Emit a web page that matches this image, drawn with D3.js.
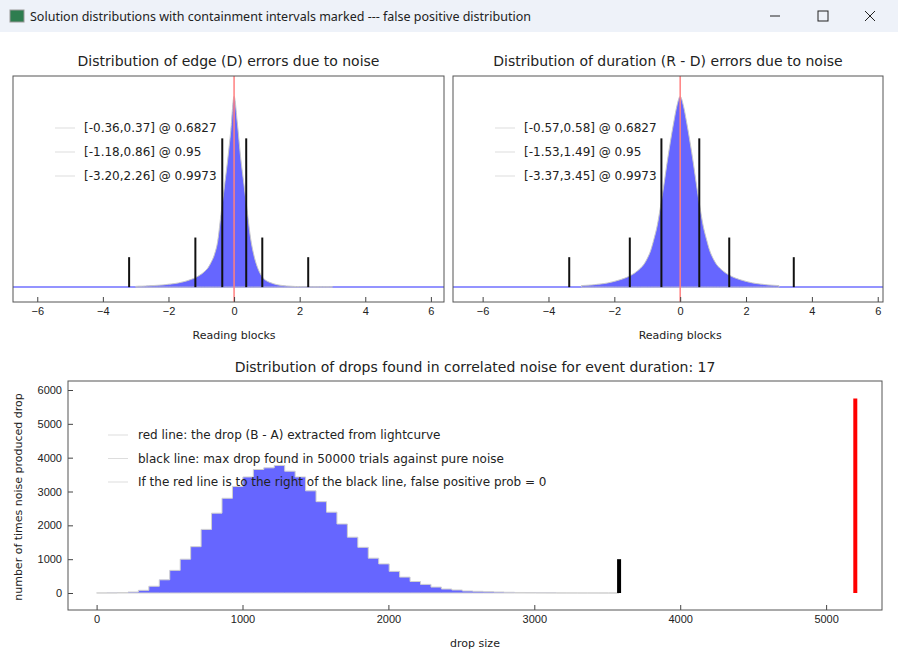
<!DOCTYPE html>
<html>
<head>
<meta charset="utf-8">
<script src="https://cdn.jsdelivr.net/npm/d3@7"></script>
<style>
  body { margin: 0; background: #fff; font-family: "DejaVu Sans", sans-serif; }
  svg text { fill: #222; }
</style>
</head>
<body>
<svg id="chart" width="898" height="661"></svg>
<script>
// ---- data ----
const distX = d3.range(-30, 31).map(i => i / 10);  // bin centres, reading blocks
const edgeCounts = [.004,.005,.005,.006,.007,.008,.009,.010,.011,.013,.015,.017,.019,.022,.026,.030,.035,.041,.048,.057,.068,.082,.10,.13,.17,.24,.38,.52,.66,.82,1.0,.86,.68,.54,.40,.26,.17,.11,.07,.045,.032,.024,.018,.013,.010,.008,.006,.005,.004,.003,.003,.002,.002,.002,.002,.002,.002,.002,.002,.002,.002];
const durCounts = [.008,.009,.010,.011,.013,.015,.017,.019,.022,.026,.030,.035,.040,.046,.053,.062,.072,.085,.10,.12,.15,.19,.25,.32,.42,.53,.65,.76,.86,.95,1.0,.95,.86,.76,.65,.53,.42,.32,.25,.19,.15,.12,.10,.085,.072,.062,.053,.046,.040,.035,.030,.026,.022,.019,.017,.015,.013,.011,.010,.009,.008];
const edgeIntervals = [[-0.36, 0.37], [-1.18, 0.86], [-3.20, 2.26]];
const durIntervals = [[-0.57, 0.58], [-1.53, 1.49], [-3.37, 3.45]];
const probs = ['0.6827', '0.95', '0.9973'];
const markHeights = [0.78, 0.26, 0.157];

const dropCounts = [3,5,15,30,80,200,390,670,1000,1370,1880,2360,2800,3150,3430,3650,3700,3770,3600,3430,3020,2700,2390,2040,1650,1350,1030,860,640,470,340,255,175,118,90,60,50,40,30,22,16,12,8,6,4,3,2,2,1,1];
const maxNoiseDrop = 3581;
const observedDrop = 5200;
const redLineTop = 5750;
const blackLineTop = 1000;
const dropLegend = [
  'red line: the drop (B - A) extracted from lightcurve',
  'black line: max drop found in 50000 trials against pure noise',
  'If the red line is to the right of the black line, false positive prob = 0'
];

const svg = d3.select('#chart');

// ---- window title bar ----
svg.append('rect').attr('width', 898).attr('height', 32).attr('fill', '#eef2f9');
svg.append('rect').attr('x', 10).attr('y', 10).attr('width', 14).attr('height', 12)
  .attr('fill', '#2e7d4f').attr('stroke', '#999');
svg.append('text').attr('x', 30).attr('y', 21).style('font-size', '12.5px')
  .style('font-family', '"Noto Sans", sans-serif')
  .text('Solution distributions with containment intervals marked --- false positive distribution');
svg.append('line').attr('x1', 770).attr('x2', 780).attr('y1', 16).attr('y2', 16).attr('stroke', '#222');
svg.append('rect').attr('x', 818).attr('y', 11).attr('width', 10).attr('height', 10).attr('fill', 'none').attr('stroke', '#222');
svg.append('path').attr('d', 'M865,11L875,21M875,11L865,21').attr('stroke', '#222');

// ---- top panels ----
function drawDist(opt) {
  const { left, right, domain, title, counts, intervals } = opt;
  const top = 76, bottom = 302;
  const x = d3.scaleLinear().domain(domain).range([left, right]);
  const y = d3.scaleLinear().domain([-0.078, 1.107]).range([bottom, top]);
  const g = svg.append('g');

  g.append('text').attr('x', (left + right) / 2).attr('y', 66).attr('text-anchor', 'middle')
    .style('font-size', '14px').text(title);

  // baseline
  g.append('line').attr('x1', left).attr('x2', right).attr('y1', y(0)).attr('y2', y(0))
    .attr('stroke', '#7070ff').attr('stroke-width', 1.5);

  const area = d3.area().curve(d3.curveMonotoneX)
    .x(d => x(d[0])).y0(y(0)).y1(d => y(d[1]));
  const pts = distX.map((v, i) => [v, counts[i]]);
  g.append('path').datum(pts).attr('d', area)
    .attr('fill', '#6666ff').attr('stroke', '#c8c8c8').attr('stroke-width', 1);

  intervals.forEach((iv, i) => {
    iv.forEach(v => {
      g.append('line').attr('x1', x(v)).attr('x2', x(v))
        .attr('y1', y(0)).attr('y2', y(markHeights[i]))
        .attr('stroke', '#111').attr('stroke-width', 2);
    });
  });

  g.append('line').attr('x1', x(0)).attr('x2', x(0)).attr('y1', top).attr('y2', bottom)
    .attr('stroke', '#ff8080').attr('stroke-width', 1.5);

  // legend
  intervals.forEach((iv, i) => {
    const ly = 128 + i * 24;
    g.append('line').attr('x1', left + 42).attr('x2', left + 62).attr('y1', ly).attr('y2', ly)
      .attr('stroke', '#ddd');
    g.append('text').attr('x', left + 71).attr('y', ly + 4).style('font-size', '12px')
      .text(`[${iv[0].toFixed(2)},${iv[1].toFixed(2)}] @ ${probs[i]}`);
  });

  const ax = g.append('g').attr('transform', `translate(0,${bottom})`)
    .call(d3.axisBottom(x).tickValues([-6, -4, -2, 0, 2, 4, 6]).tickSize(-5).tickPadding(5));
  ax.select('.domain').remove();
  ax.selectAll('line').attr('stroke', '#444');
  ax.selectAll('text').style('font-size', '11px');

  g.append('rect').attr('x', left).attr('y', top).attr('width', right - left).attr('height', bottom - top)
    .attr('fill', 'none').attr('stroke', '#555');

  g.append('text').attr('x', x(0)).attr('y', 339).attr('text-anchor', 'middle')
    .style('font-size', '11px').text('Reading blocks');
}

drawDist({ left: 13, right: 444, domain: [-6.74, 6.40], title: 'Distribution of edge (D) errors due to noise',
  counts: edgeCounts, intervals: edgeIntervals });
drawDist({ left: 453, right: 883, domain: [-6.90, 6.16], title: 'Distribution of duration (R - D) errors due to noise',
  counts: durCounts, intervals: durIntervals });

// ---- bottom panel ----
{
  const left = 68, right = 882, top = 381, bottom = 610;
  const x = d3.scaleLinear().domain([-196, 5383]).range([left, right]);
  const y = d3.scaleLinear().domain([-502, 6266]).range([bottom, top]);
  const g = svg.append('g');

  g.append('text').attr('x', 475).attr('y', 372).attr('text-anchor', 'middle')
    .style('font-size', '14px').text('Distribution of drops found in correlated noise for event duration: 17');

  const binW = maxNoiseDrop / dropCounts.length;
  const pts = dropCounts.map((c, i) => [i * binW, c]);
  pts.push([maxNoiseDrop, 0]);
  g.append('path').datum(pts)
    .attr('d', d3.area().curve(d3.curveStepAfter).x(d => x(d[0])).y0(y(0)).y1(d => y(d[1])))
    .attr('fill', '#6666ff').attr('stroke', '#d0d0d0').attr('stroke-width', 1);

  g.append('line').attr('x1', x(maxNoiseDrop)).attr('x2', x(maxNoiseDrop))
    .attr('y1', y(0)).attr('y2', y(blackLineTop)).attr('stroke', '#000').attr('stroke-width', 4);
  g.append('line').attr('x1', x(observedDrop)).attr('x2', x(observedDrop))
    .attr('y1', y(0)).attr('y2', y(redLineTop)).attr('stroke', '#ff0000').attr('stroke-width', 4);

  dropLegend.forEach((t, i) => {
    const ly = 435 + i * 23.5;
    g.append('line').attr('x1', 108).attr('x2', 128).attr('y1', ly).attr('y2', ly).attr('stroke', '#ddd');
    g.append('text').attr('x', 138).attr('y', ly + 4).style('font-size', '12px').text(t);
  });

  const ax = g.append('g').attr('transform', `translate(0,${bottom})`)
    .call(d3.axisBottom(x).tickValues(d3.range(0, 5001, 1000)).tickFormat(d3.format('d')).tickSize(-5).tickPadding(5));
  ax.select('.domain').remove();
  const ay = g.append('g').attr('transform', `translate(${left},0)`)
    .call(d3.axisLeft(y).tickValues(d3.range(0, 6001, 1000)).tickFormat(d3.format('d')).tickSize(-5).tickPadding(6));
  ay.select('.domain').remove();
  [ax, ay].forEach(a => {
    a.selectAll('line').attr('stroke', '#444');
    a.selectAll('text').style('font-size', '11px');
  });

  g.append('rect').attr('x', left).attr('y', top).attr('width', right - left).attr('height', bottom - top)
    .attr('fill', 'none').attr('stroke', '#555');

  g.append('text').attr('x', 475).attr('y', 647).attr('text-anchor', 'middle')
    .style('font-size', '11px').text('drop size');
  g.append('text').attr('transform', 'translate(22,497) rotate(-90)').attr('text-anchor', 'middle')
    .style('font-size', '11px').text('number of times noise produced drop');
}
</script>
</body>
</html>
